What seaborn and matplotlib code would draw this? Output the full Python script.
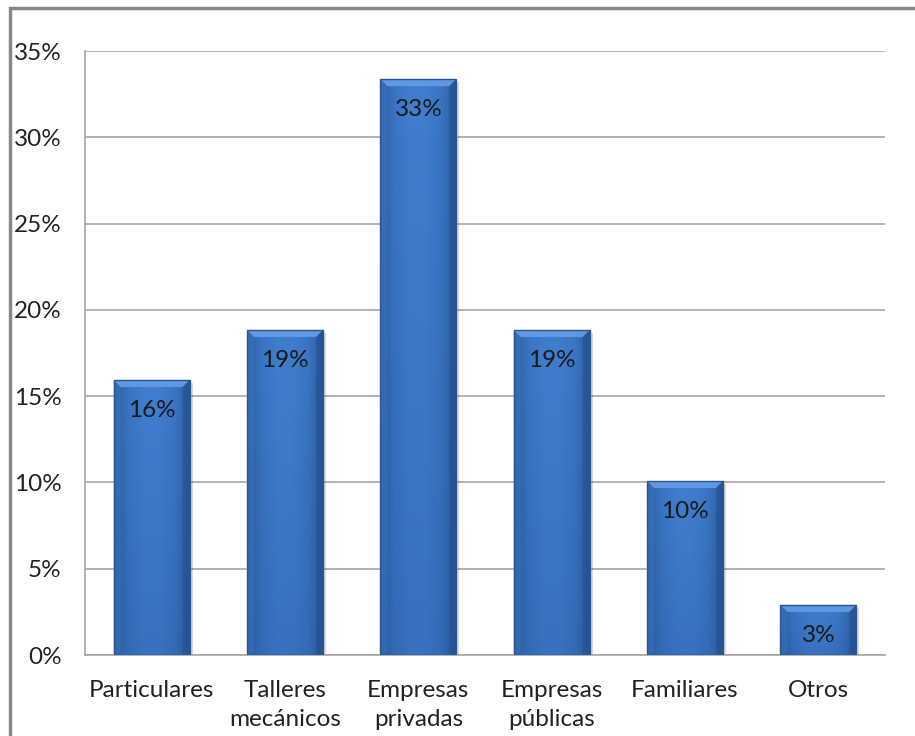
import numpy as np
import pandas as pd
import matplotlib
matplotlib.use("Agg")
import matplotlib.pyplot as plt
import seaborn as sns
from matplotlib.patches import Rectangle, Polygon
from matplotlib.colors import LinearSegmentedColormap
from matplotlib.ticker import FuncFormatter

categories = ["Particulares", "Talleres\nmecánicos", "Empresas\nprivadas",
              "Empresas\npúblicas", "Familiares", "Otros"]
values = [15.93, 18.83, 33.37, 18.83, 10.08, 2.9]
value_labels = ["16%", "19%", "33%", "19%", "10%", "3%"]
yticks = [0, 5, 10, 15, 20, 25, 30, 35]

sns.set_theme(style="white")
plt.rcParams['font.family'] = ['Lato', 'DejaVu Sans']

fig = plt.figure(figsize=(9.15, 7.36), dpi=100)
ax = fig.add_axes([85/915, 1-655/736, 800/915, 604/736])

df = pd.DataFrame({"cat": categories, "val": values})
sns.barplot(data=df, x="cat", y="val", color="#3F7DCC", width=0.57,
            saturation=1, ax=ax, zorder=3)

ax.set_ylim(0, 35)
ax.set_xlim(-0.5, 5.5)
ax.set_yticks(yticks)
ax.yaxis.set_major_formatter(FuncFormatter(lambda v, p: f"{int(v)}%"))
ax.grid(axis="y", color="#A6A6A6", linewidth=1.2, zorder=0)
ax.set_axisbelow(True)
for s in ["top", "right"]:
    ax.spines[s].set_visible(False)
for s in ["left", "bottom"]:
    ax.spines[s].set_color("#A6A6A6")
    ax.spines[s].set_linewidth(1.2)
ax.set_xlabel("")
ax.set_ylabel("")
ax.tick_params(axis="y", labelsize=17.5, colors="#222222", pad=17, length=0)
ax.tick_params(axis="x", labelsize=17.5, colors="#222222", pad=18, length=0)
for t in ax.get_xticklabels():
    t.set_linespacing(1.45)

px_x = 6 / 800   # data per px
px_y = 35 / 604
bx = 7 * 6 / 800
by = 7 * 35 / 604

grad = np.linspace(0, 1, 256).reshape(1, -1)
cmap_h = LinearSegmentedColormap.from_list(
    "h", ["#2E5E9F", "#3A76C4", "#407ECE", "#407ECE", "#3A76C4", "#2E5E9F"])
for p, lab in zip(ax.patches, value_labels):
    x0, w, h = p.get_x(), p.get_width(), p.get_height()
    # shadow
    sh = Rectangle((x0 + 3 * px_x, -3 * px_y), w, h, facecolor="#000000",
                   alpha=0.15, edgecolor="none", zorder=2)
    ax.add_patch(sh)
    im = ax.imshow(grad, cmap=cmap_h, aspect="auto",
                   extent=(x0, x0 + w, 0, h), zorder=3.5)
    im.set_clip_path(p)
    vg = np.linspace(0, 1, 256).reshape(-1, 1)
    im2 = ax.imshow(vg, cmap=LinearSegmentedColormap.from_list(
        "v", [(0.1, 0.25, 0.5, 0.0), (0.1, 0.25, 0.5, 0.2)]), aspect="auto",
        extent=(x0, x0 + w, 0, h), zorder=3.6, origin="upper")
    im2.set_clip_path(p)
    # bevels
    top = Polygon([(x0, h), (x0 + w, h), (x0 + w - bx, h - by), (x0 + bx, h - by)],
                  closed=True, facecolor="#5E98E2", edgecolor="none", zorder=3.7)
    left = Polygon([(x0, h), (x0 + bx, h - by), (x0 + bx, by * 0.3), (x0, 0)],
                   closed=True, facecolor="#3A72BC", edgecolor="none", alpha=0.6, zorder=3.7)
    right = Polygon([(x0 + w, h), (x0 + w - bx, h - by), (x0 + w - bx, by * 0.3), (x0 + w, 0)],
                    closed=True, facecolor="#24508C", edgecolor="none", alpha=0.6, zorder=3.7)
    for poly in (top, left, right):
        ax.add_patch(poly)
    ax.add_patch(Rectangle((x0, 0), w, h, facecolor="none",
                           edgecolor="#2A5591", linewidth=1.0, zorder=3.8))
    ax.annotate(lab, (x0 + w / 2, h), xytext=(0, -22), textcoords="offset points",
                ha="center", va="center", fontsize=17.5, color="#1A1A1A", zorder=5)

ax.set_xlim(-0.5, 5.5)
ax.set_ylim(0, 35)

# outer border
fig.patches.append(Rectangle((10/915, -0.1), 2, 1 - 8/736 + 0.1,
                             transform=fig.transFigure, fill=False,
                             edgecolor="#888888", linewidth=2.5))

fig.savefig("out.png", dpi=100)
